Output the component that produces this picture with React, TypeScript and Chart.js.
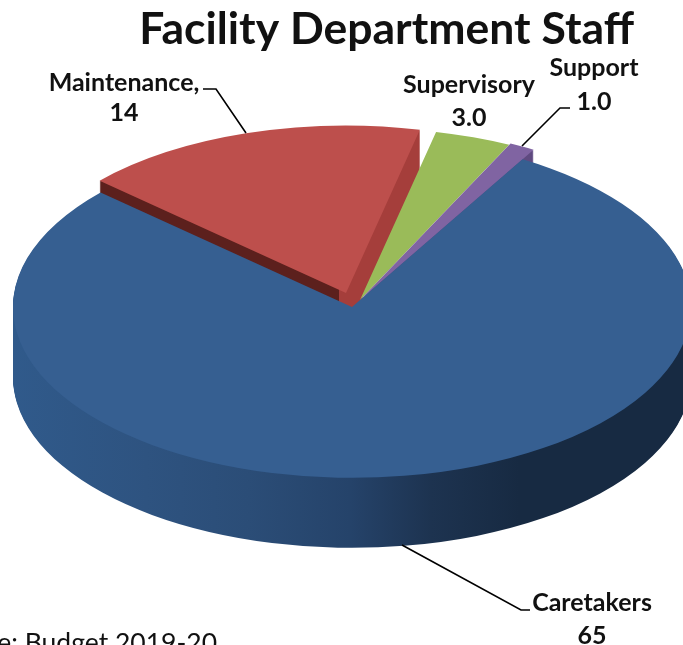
import React, { useEffect, useRef } from "react";
import { Chart, registerables } from "chart.js";

Chart.register(...registerables);

const categories = ["Caretakers", "Maintenance", "Supervisory", "Support"];
const staffValues = [65, 14, 3, 1];
const valueLabels = ["65", "14", "3.0", "1.0"];
const sliceColors = ["#365f91", "#bd4f4c", "#9abb59", "#8064a2"];
const sourceNote = "Source: Budget 2019-20";

const FONT = "Lato, 'Open Sans', sans-serif";
const SQUASH = 0.504;
const WIDTH = 683;
const HEIGHT = 645;

// How each slice is placed on the tilted plane (screen px), drawn in this order.
const layers = [
  { index: 1, apexX: 346, apexY: 293, scale: 0.98, depth: 41 },
  { index: 2, apexX: 360, apexY: 300, scale: 1.009, depth: 0 },
  { index: 3, apexX: 360, apexY: 300, scale: 1.018, depth: 14 },
  { index: 0, apexX: 352, apexY: 307, scale: 1, depth: 0 },
];

const labelLayout = [
  { index: 1, lines: ["Maintenance,", valueLabels[1]], x: 124, y: [83, 113] },
  { index: 2, lines: ["Supervisory", valueLabels[2]], x: 469, y: [85, 118] },
  { index: 3, lines: ["Support", valueLabels[3]], x: 594, y: [68, 102] },
  { index: 0, lines: ["Caretakers", valueLabels[0]], x: 592, y: [603, 636] },
];

const leaders = [
  [[203, 89], [216, 89], [246, 133]],
  [[570, 108], [560, 108], [522, 146]],
  [[530, 610], [521, 610], [402, 545]],
];

const piePlugin = {
  id: "tiltedPie",
  beforeDatasetsDraw(chart: any) {
    const ctx = chart.ctx;
    const arcs = chart.getDatasetMeta(0).data;

    const place = (arc: any, layer: any, dy: number) => {
      ctx.translate(layer.apexX, layer.apexY + dy);
      ctx.scale(layer.scale, layer.scale * SQUASH);
      ctx.translate(-arc.x, -arc.y);
    };
    const drawWith = (arc: any, layer: any, dy: number, fill: any) => {
      const saved = arc.options;
      if (fill) {
        arc.options = Object.create(saved, {
          backgroundColor: { value: fill },
        });
      }
      ctx.save();
      place(arc, layer, dy);
      arc.draw(ctx);
      ctx.restore();
      arc.options = saved;
    };

    // Blue rim
    const rim = ctx.createLinearGradient(13, 0, 691, 0);
    rim.addColorStop(0, "#305a8b");
    rim.addColorStop(0.2, "#2e5380");
    rim.addColorStop(0.35, "#2b4d77");
    rim.addColorStop(0.5, "#25436a");
    rim.addColorStop(0.62, "#1d3350");
    rim.addColorStop(0.75, "#172a42");
    rim.addColorStop(1, "#172a42");
    const blue = layers[3];
    for (let d = 70; d >= 1; d--) drawWith(arcs[blue.index], blue, d, rim);

    // Cut walls of the slices behind, then their faces
    const redWall = ctx.createLinearGradient(0, 0, WIDTH, 0);
    const split = 347 / WIDTH;
    redWall.addColorStop(0, "#5c201d");
    redWall.addColorStop(split, "#5c201d");
    redWall.addColorStop(split, "#a53e3b");
    redWall.addColorStop(1, "#a53e3b");
    const wallFills: any = { 1: redWall, 3: "#5f4a80" };

    layers.forEach((layer) => {
      for (let d = layer.depth; d >= 1; d--) {
        drawWith(arcs[layer.index], layer, d, wallFills[layer.index]);
      }
      drawWith(arcs[layer.index], layer, 0, null);
    });
    return false;
  },
  afterDraw(chart: any) {
    const ctx = chart.ctx;
    ctx.save();
    ctx.strokeStyle = "#000";
    ctx.lineWidth = 1.6;
    leaders.forEach((pts) => {
      ctx.beginPath();
      pts.forEach(([x, y], i) => (i ? ctx.lineTo(x, y) : ctx.moveTo(x, y)));
      ctx.stroke();
    });
    ctx.fillStyle = "#111";
    ctx.textAlign = "center";
    ctx.textBaseline = "middle";
    ctx.font = `bold 25px ${FONT}`;
    labelLayout.forEach((l) => {
      l.lines.forEach((t, i) => ctx.fillText(t, l.x, l.y[i]));
    });
    ctx.textAlign = "right";
    ctx.font = `26.5px ${FONT}`;
    ctx.fillText(sourceNote, 217, 643);
    ctx.restore();
  },
};

export default function App() {
  const ref = useRef<HTMLCanvasElement>(null);
  useEffect(() => {
    if (!ref.current) return;
    const chart = new Chart(ref.current, {
      type: "pie",
      data: {
        labels: categories,
        datasets: [
          {
            data: staffValues,
            backgroundColor: sliceColors,
            borderWidth: 0,
            radius: 339,
          } as any,
        ],
      },
      options: {
        responsive: false,
        animation: false,
        rotation: 30.2,
        layout: { padding: { left: 74, right: 49, top: 0, bottom: 88 } },
        plugins: {
          legend: { display: false },
          tooltip: { enabled: false },
          title: {
            display: true,
            text: "Facility Department Staff",
            align: "end",
            color: "#111",
            font: { family: FONT, size: 44.5, weight: "bold" },
            padding: { top: 3, bottom: 0 },
          },
        },
      },
      plugins: [piePlugin],
    } as any);
    return () => chart.destroy();
  }, []);
  return (
    <div style={{ position: "fixed", left: 0, top: 0, width: WIDTH, height: HEIGHT }}>
      <canvas ref={ref} width={WIDTH} height={HEIGHT} style={{ display: "block" }} />
    </div>
  );
}
